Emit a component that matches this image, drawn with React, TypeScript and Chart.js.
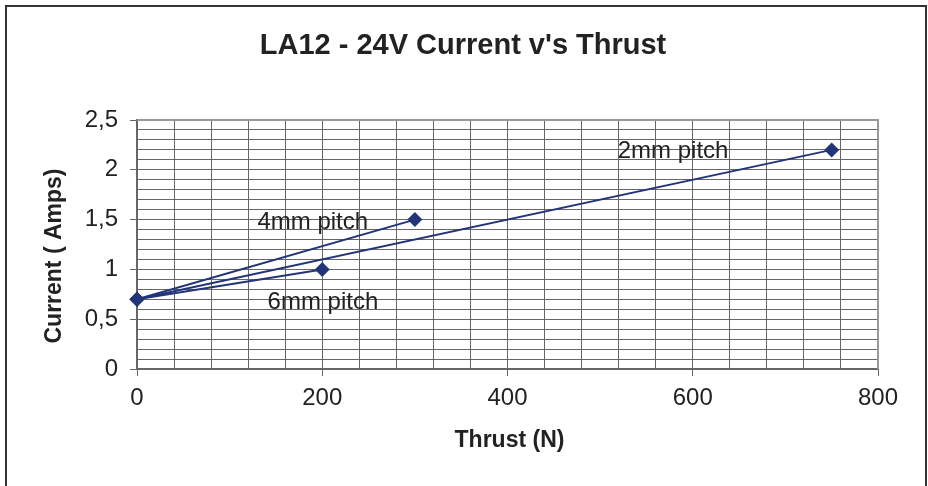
import React, { useEffect, useRef } from "react";
import { Chart, registerables } from "chart.js";

Chart.register(...registerables);

const chartTitle = "LA12 - 24V Current v's Thrust";
const xAxisTitle = "Thrust (N)";
const yAxisTitle = "Current ( Amps)";

const seriesNames = ["2mm pitch", "4mm pitch", "6mm pitch"];
const thrust2mm = [0, 750];
const current2mm = [0.7, 2.2];
const thrust4mm = [0, 300];
const current4mm = [0.7, 1.5];
const thrust6mm = [0, 200];
const current6mm = [0.7, 1.0];

const xMin = 0;
const xMax = 800;
const xStep = 40;
const xLabelStep = 200;
const yMin = 0;
const yMax = 2.5;
const yStep = 0.1;
const yLabelStep = 0.5;

// label anchors in data units (left edge, vertical middle)
const labelThrust = [519, 130, 141];
const labelCurrent = [2.18, 1.47, 0.67];

const FONT = "'Liberation Sans', Arial, Helvetica, sans-serif";
const LINE = "#233579";
const TEXT = "#222222";

function toPairs(xs: number[], ys: number[]) {
  return xs.map((x, i) => ({ x, y: ys[i] }));
}

export default function App() {
  const ref = useRef<HTMLCanvasElement | null>(null);

  useEffect(() => {
    if (!ref.current) return;
    document.body.style.margin = "0";

    const framePlugin = {
      id: "frame",
      beforeDraw(chart: any) {
        const { ctx, width, height } = chart;
        ctx.save();
        ctx.fillStyle = "#ffffff";
        ctx.fillRect(0, 0, width, height);
        ctx.strokeStyle = "#333333";
        ctx.lineWidth = 2;
        ctx.beginPath();
        ctx.moveTo(6, height);
        ctx.lineTo(6, 6);
        ctx.lineTo(926, 6);
        ctx.lineTo(926, height);
        ctx.stroke();
        // titles
        ctx.fillStyle = TEXT;
        ctx.textAlign = "center";
        ctx.textBaseline = "middle";
        ctx.font = `bold 29px ${FONT}`;
        ctx.fillText(chartTitle, 463, 46);
        const ca = chart.chartArea;
        ctx.font = `bold 23px ${FONT}`;
        ctx.fillText(xAxisTitle, (ca.left + ca.right) / 2 + 2, 441);
        ctx.save();
        ctx.translate(55, 256);
        ctx.rotate(-Math.PI / 2);
        ctx.fillText(yAxisTitle, 0, 0);
        ctx.restore();
        ctx.restore();
      },
      beforeDatasetsDraw(chart: any) {
        const { ctx, chartArea: ca, scales } = chart;
        ctx.save();
        // top / right plot border
        ctx.strokeStyle = "#999999";
        ctx.lineWidth = 2;
        ctx.beginPath();
        ctx.moveTo(ca.left, ca.top);
        ctx.lineTo(ca.right, ca.top);
        ctx.lineTo(ca.right, ca.bottom);
        ctx.stroke();
        // series labels
        ctx.fillStyle = TEXT;
        ctx.font = `24px ${FONT}`;
        ctx.textAlign = "left";
        ctx.textBaseline = "middle";
        seriesNames.forEach((name, i) => {
          const x = scales.x.getPixelForValue(labelThrust[i]);
          const y = scales.y.getPixelForValue(labelCurrent[i]);
          ctx.fillText(name, x, y);
        });
        ctx.restore();
      },
    };

    const mkSet = (label: string, xs: number[], ys: number[]) => ({
      label,
      data: toPairs(xs, ys),
      borderColor: LINE,
      backgroundColor: LINE,
      borderWidth: 2,
      pointStyle: "rectRot" as const,
      pointRadius: 7.5,
      pointHoverRadius: 7.5,
      pointBorderWidth: 0,
      showLine: true,
      tension: 0,
      clip: false as any,
    });

    const isMajor = (v: number, step: number) =>
      Math.abs(v / step - Math.round(v / step)) < 1e-6;

    const chart = new Chart(ref.current, {
      type: "scatter",
      data: {
        datasets: [
          mkSet(seriesNames[0], thrust2mm, current2mm),
          mkSet(seriesNames[1], thrust4mm, current4mm),
          mkSet(seriesNames[2], thrust6mm, current6mm),
        ],
      },
      options: {
        animation: false,
        responsive: false,
        events: [],
        layout: { padding: { top: 120, right: 50, left: 0, bottom: 0 } },
        plugins: {
          legend: { display: false },
          title: { display: false },
          tooltip: { enabled: false },
        },
        scales: {
          x: {
            type: "linear",
            min: xMin,
            max: xMax,
            afterFit(scale: any) {
              scale.height = 117;
            },
            ticks: {
              stepSize: xStep,
              maxTicksLimit: 1000,
              autoSkip: false,
              maxRotation: 0,
              padding: 8,
              color: TEXT,
              font: { family: FONT, size: 24 },
              callback: (v: any) => (isMajor(Number(v), xLabelStep) ? String(Math.round(Number(v))) : ""),
            },
            grid: {
              color: "#666666",
              lineWidth: 1,
              tickLength: 7,
              tickColor: (c: any) =>
                c.tick && isMajor(c.tick.value, xLabelStep) ? "#666666" : "rgba(0,0,0,0)",
            },
            border: { display: true, color: "#666666", width: 2 },
          },
          y: {
            type: "linear",
            min: yMin,
            max: yMax,
            afterFit(scale: any) {
              scale.width = 137;
            },
            ticks: {
              stepSize: yStep,
              maxTicksLimit: 1000,
              autoSkip: false,
              padding: 12,
              color: TEXT,
              font: { family: FONT, size: 24 },
              callback: (v: any) => {
                const n = Number(v);
                if (!isMajor(n, yLabelStep)) return "";
                return String(Math.round(n * 10) / 10).replace(".", ",");
              },
            },
            grid: {
              color: "#666666",
              lineWidth: 1,
              tickLength: 7,
              tickColor: (c: any) =>
                c.tick && isMajor(c.tick.value, yLabelStep) ? "#666666" : "rgba(0,0,0,0)",
            },
            border: { display: true, color: "#666666", width: 2 },
          },
        },
      },
      plugins: [framePlugin],
    });
    return () => chart.destroy();
  }, []);

  return (
    <div style={{ position: "absolute", left: 0, top: 0, width: 928, height: 486 }}>
      <canvas ref={ref} width={928} height={486} style={{ display: "block", width: 928, height: 486 }} />
    </div>
  );
}
